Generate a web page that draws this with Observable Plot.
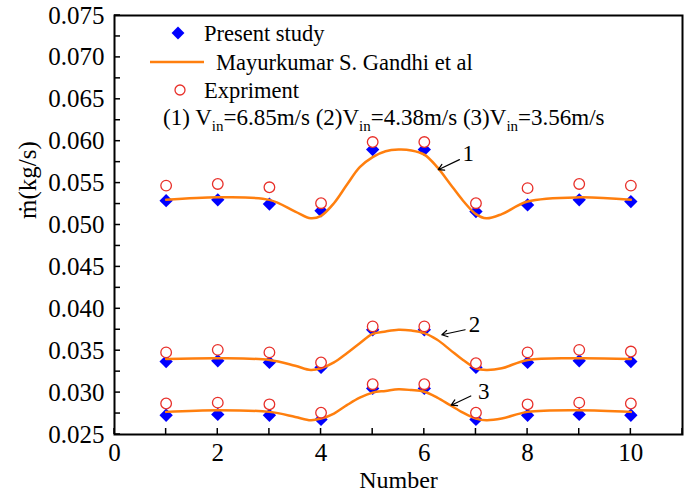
<!DOCTYPE html>
<html><head><meta charset="utf-8">
<script src="https://cdn.jsdelivr.net/npm/d3@7"></script>
<script src="https://cdn.jsdelivr.net/npm/@observablehq/plot@0.6"></script>
<style>body{margin:0;background:#fff} svg{font-family:"Liberation Serif","Times New Roman",serif}</style>
</head><body><div id="chart"></div>
<script>
// ---- data ----
const numbers = [1, 2, 3, 4, 5, 6, 7, 8, 9, 10];
const present1 = [0.0529, 0.0530, 0.0525, 0.0517, 0.0590, 0.0590, 0.0516, 0.0524, 0.0530, 0.0528];
const present2 = [0.0337, 0.0338, 0.0336, 0.0330, 0.0375, 0.0375, 0.0330, 0.0336, 0.0338, 0.0337];
const present3 = [0.0273, 0.0274, 0.0273, 0.0268, 0.0305, 0.0305, 0.0268, 0.0273, 0.0274, 0.0273];
const exp1 = [0.0547, 0.0549, 0.0545, 0.0526, 0.0599, 0.0599, 0.0526, 0.0544, 0.0549, 0.0547];
const exp2 = [0.0348, 0.0351, 0.0348, 0.0336, 0.0379, 0.0379, 0.0335, 0.0348, 0.0351, 0.0349];
const exp3 = [0.0287, 0.0288, 0.0286, 0.0276, 0.0310, 0.0310, 0.0276, 0.0286, 0.0288, 0.0287];
const curveX = [1, 2, 3, 3.5, 3.8, 4, 4.25, 4.5, 4.75, 5, 5.25, 5.5, 5.75, 6, 6.25, 6.5, 6.75, 7, 7.2, 7.5, 8, 9, 10];
const curve1 = [0.0530, 0.0533, 0.0530, 0.0516, 0.0508, 0.0511, 0.0526, 0.0548, 0.0569, 0.0581, 0.0588, 0.0590, 0.0589, 0.0584, 0.0569, 0.0549, 0.0529, 0.0513, 0.0508, 0.0513, 0.0528, 0.0533, 0.0530];
const curve2 = [0.0340, 0.0341, 0.0339, 0.0332, 0.0327, 0.0329, 0.0336, 0.0347, 0.0359, 0.0370, 0.0373, 0.0375, 0.0374, 0.0371, 0.0363, 0.0351, 0.0339, 0.0329, 0.0327, 0.0329, 0.0339, 0.0341, 0.0340];
const curve3 = [0.0277, 0.0279, 0.0277, 0.0271, 0.0267, 0.0269, 0.0275, 0.0285, 0.0294, 0.0300, 0.0302, 0.0304, 0.0303, 0.0301, 0.0294, 0.0285, 0.0276, 0.0269, 0.0267, 0.0269, 0.0277, 0.0279, 0.0277];
const yTicks = [0.025, 0.030, 0.035, 0.040, 0.045, 0.050, 0.055, 0.060, 0.065, 0.070, 0.075];
const yMinorTicks = [0.025, 0.0275, 0.030, 0.0325, 0.035, 0.0375, 0.040, 0.0425, 0.045, 0.0475, 0.050, 0.0525, 0.055, 0.0575, 0.060, 0.0625, 0.065, 0.0675, 0.070, 0.0725, 0.075];
const xTickLabels = [0, 2, 4, 6, 8, 10];
const xMinorTicks = [0, 1, 2, 3, 4, 5, 6, 7, 8, 9, 10, 11];
const annotLabels = ["1", "2", "3"];
const annotTextX = [6.85, 6.97, 7.15];
const annotTextY = [0.0585, 0.0381, 0.0301];
const arrowX1 = [6.68, 6.79, 6.90];
const arrowY1 = [0.0578, 0.0375, 0.0296];
const arrowX2 = [6.27, 6.34, 6.52];
const arrowY2 = [0.0566, 0.0369, 0.0285];
const legendLabels = ["Present study", "Mayurkumar S. Gandhi et al", "Expriment"];

// ---- tables ----
const presentData = [present1, present2, present3].flatMap((s, k) => s.map((v, i) => ({x: numbers[i], y: v, s: k})));
const expData = [exp1, exp2, exp3].flatMap((s, k) => s.map((v, i) => ({x: numbers[i], y: v, s: k})));
const curveData = [curve1, curve2, curve3].flatMap((s, k) => s.map((v, i) => ({x: curveX[i], y: v, s: k})));
const annot = annotLabels.map((t, i) => ({t, tx: annotTextX[i], ty: annotTextY[i], x1: arrowX1[i], y1: arrowY1[i], x2: arrowX2[i], y2: arrowY2[i]}));

const BLUE = "#0000ff", RED = "#e8302a", ORANGE = "#ff7f0e";

const chart = Plot.plot({
  width: 687, height: 497,
  marginLeft: 114, marginRight: 5, marginTop: 15, marginBottom: 63,
  style: {fontFamily: "Liberation Serif, Times New Roman, serif", background: "#fff", color: "#000"},
  x: {domain: [0, 11], label: null},
  y: {domain: [0.025, 0.075], label: null},
  marks: [
    Plot.axisX({ticks: xTickLabels, tickSize: 0, tickPadding: 9, fontSize: 25}),
    Plot.axisY({ticks: yTicks, tickSize: 0, tickPadding: 10, tickFormat: d3.format(".3f"), fontSize: 25}),
    Plot.frame({stroke: "#000", strokeWidth: 2}),
    Plot.dot(presentData, {x: "x", y: "y", symbol: "diamond2", r: 6, fill: BLUE, stroke: "none"}),
    Plot.line(curveData, {x: "x", y: "y", z: "s", stroke: ORANGE, strokeWidth: 2.5, curve: "catmull-rom"}),
    Plot.dot(expData, {x: "x", y: "y", r: 5.3, fill: "white", stroke: RED, strokeWidth: 1.3}),
    Plot.arrow(annot, {x1: "x1", y1: "y1", x2: "x2", y2: "y2", stroke: "#000", strokeWidth: 1.2, headLength: 8}),
    Plot.text(annot, {x: "tx", y: "ty", text: "t", fontSize: 23}),
    Plot.text(["Number"], {frameAnchor: "bottom", dy: 53, fontSize: 24}),
    Plot.text(["ṁ(kg/s)"], {frameAnchor: "left", dx: -87, dy: -6, rotate: -90, fontSize: 25})
  ]
});
document.getElementById("chart").append(chart);

const svg = d3.select(chart);
const xs = chart.scale("x"), ys = chart.scale("y");
const x0 = xs.apply(0), yBottom = ys.apply(0.025);
// inward ticks through the chart's scales
const tg = svg.append("g").attr("stroke", "#000").attr("stroke-width", 1.5);
xMinorTicks.forEach(v => { const px = xs.apply(v); tg.append("line").attr("x1", px).attr("x2", px).attr("y1", yBottom).attr("y2", yBottom - 6); });
yMinorTicks.forEach(v => { const py = ys.apply(v); tg.append("line").attr("x1", x0).attr("x2", x0 + 6).attr("y1", py).attr("y2", py); });

// ---- legend ----
const g = svg.append("g").attr("font-family", "Liberation Serif, Times New Roman, serif").attr("font-size", 22.5).attr("text-anchor", "start");
g.append("path").attr("d", d3.symbol(d3.symbolDiamond2, Math.PI * 5.8 * 5.8)()).attr("transform", "translate(178,33)").attr("fill", BLUE);
g.append("text").attr("x", 204).attr("y", 33).attr("dy", "0.35em").text(legendLabels[0]);
g.append("line").attr("x1", 150).attr("x2", 204).attr("y1", 62).attr("y2", 62).attr("stroke", ORANGE).attr("stroke-width", 2.5);
g.append("text").attr("x", 216).attr("y", 62).attr("dy", "0.35em").text(legendLabels[1]);
g.append("circle").attr("cx", 180).attr("cy", 90).attr("r", 5).attr("fill", "white").attr("stroke", RED).attr("stroke-width", 1.3);
g.append("text").attr("x", 204).attr("y", 90).attr("dy", "0.35em").text(legendLabels[2]);
const t = g.append("text").attr("x", 163).attr("y", 117).attr("dy", "0.35em").attr("font-size", 23);
const parts = [["(1) V", "in", "=6.85m/s "], ["(2)V", "in", "=4.38m/s "], ["(3)V", "in", "=3.56m/s"]];
parts.forEach(([a, sub, b]) => {
  t.append("tspan").text(a);
  t.append("tspan").attr("font-size", 15).attr("dy", 6).text(sub);
  t.append("tspan").attr("dy", -6).text(b);
});
</script>
</body></html>
